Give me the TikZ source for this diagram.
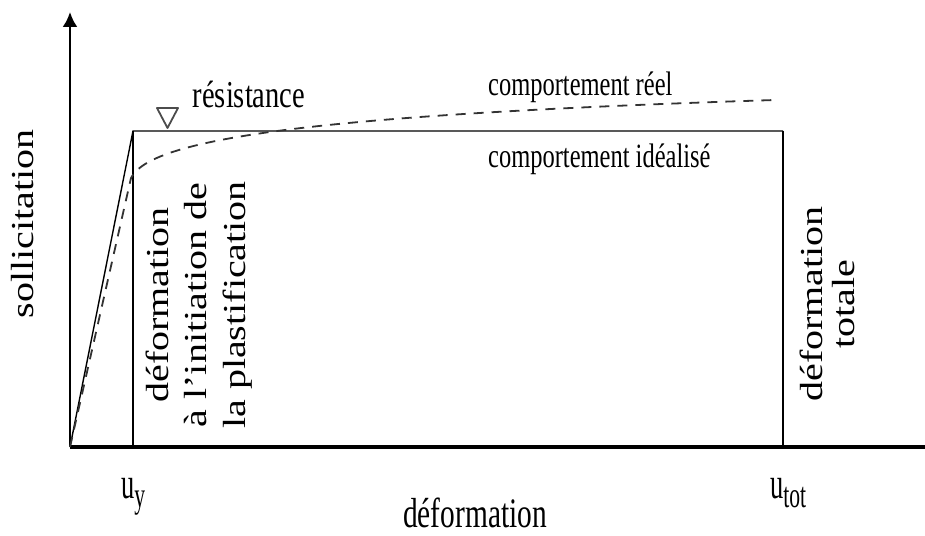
\documentclass[tikz,border=0pt]{standalone}
\usepackage{fontspec}
\usepackage{graphicx}
\setmainfont{Liberation Serif}
\usetikzlibrary{arrows.meta}
\newcommand{\narrowtext}[2][.72]{\scalebox{#1}[1]{#2}}
\newcommand{\flattext}[1]{\scalebox{1}[.8]{#1}}
\begin{document}
\begin{tikzpicture}[x=1pt, y=-1pt,
  axis/.style={-{Latex[length=15pt,width=15pt]}},
  txt/.style={inner sep=0pt},
  vtxt/.style={inner sep=0pt, rotate=90, font=\fontsize{40}{48}\selectfont},
  real/.style={black!80, line width=1.8pt, dash pattern=on 10pt off 8pt}]
\useasboundingbox (0,0) rectangle (925,535);
\coordinate (O) at (70,447);
\coordinate (Ytop) at (70,12);
\coordinate (Xend) at (940,447);
\coordinate (Y) at (133,131);
\coordinate (Yb) at (133,447);
\coordinate (U) at (783,131);
\coordinate (Ub) at (783,447);
\coordinate (R0) at (131,178);
\coordinate (R1) at (775,100);
% axes
\draw[axis, line width=2.5pt] (O) -- (Ytop);
\draw[axis, line width=4pt] (O) -- (Xend);
% idealised behaviour
\draw[line width=1.4pt] (O) -- (Y) -- (U);
\draw[line width=2.2pt] (Y) -- (Yb);
\draw[line width=2.2pt] (U) -- (Ub);
% real behaviour
\draw[real] (O) -- (R0) .. controls (150,140) and (300,115) .. (R1);
\draw[black!70, line width=1.8pt, line join=round] (157,108) -- (178,108) -- (167.5,128) -- cycle;
% labels
\node[txt, anchor=base, font=\fontsize{38}{38}\selectfont] (res) at (249,107) {\narrowtext[.75]{résistance}};
\node[txt, anchor=base west, font=\fontsize{34}{34}\selectfont] (reel) at (488,95) {\narrowtext{comportement réel}};
\node[txt, anchor=base west, font=\fontsize{34}{34}\selectfont] (ideal) at (488,167) {\narrowtext{comportement idéalisé}};
\node[vtxt, anchor=base] (soll) at (33,224) {\flattext{sollicitation}};
\node[vtxt, anchor=center] (init) at (199,305) {\flattext{\begin{tabular}{@{}c@{}}déformation\\ à l'initiation de\\ la plastification\end{tabular}}};
\node[vtxt, anchor=center, font=\fontsize{40}{40}\selectfont] (tot) at (832,304) {\flattext{\begin{tabular}{@{}c@{}}déformation\\ totale\end{tabular}}};
\node[txt, anchor=base west, font=\fontsize{44}{44}\selectfont] (uy) at (121,498) {\narrowtext[.6]{u\raisebox{-9pt}{\fontsize{36}{36}\selectfont y}}};
\node[txt, anchor=base west, font=\fontsize{44}{44}\selectfont] (utot) at (770,498) {\narrowtext[.6]{u\raisebox{-9pt}{\fontsize{36}{36}\selectfont tot}}};
\node[txt, anchor=base, font=\fontsize{42}{42}\selectfont] (def) at (475,527) {\narrowtext[.7]{déformation}};
\end{tikzpicture}
\end{document}
